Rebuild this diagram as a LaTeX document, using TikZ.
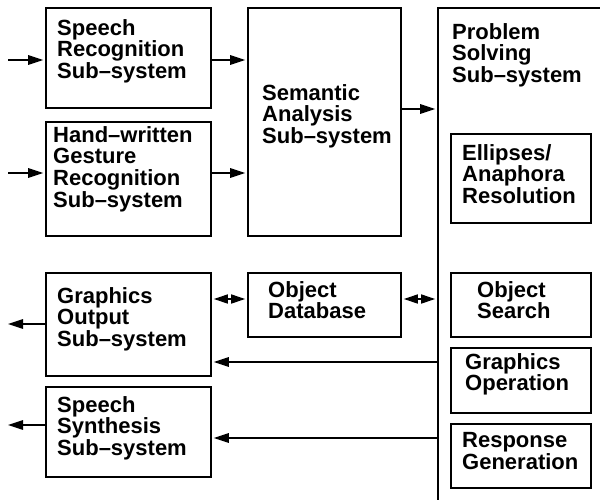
\documentclass[tikz,border=0pt]{standalone}
\usepackage{fontspec}
\setmainfont{Liberation Sans}
\usetikzlibrary{arrows.meta}
\begin{document}
\begin{tikzpicture}[x=1pt,y=-1pt,
  box/.style={draw, line width=2.8pt, inner sep=0pt},
  lbl/.style={anchor=north west, align=left, inner sep=0pt,
              font=\fontsize{22}{21.7}\selectfont\bfseries},
  conn/.style={line width=1.5pt, shorten >=1.4pt, -{Triangle[length=15pt,width=9.5pt]}},
  dconn/.style={line width=1.5pt, shorten >=1.4pt, shorten <=1.4pt,
                {Triangle[length=14pt,width=9pt]}-{Triangle[length=14pt,width=9pt]}}]
\useasboundingbox (0,0) rectangle (600,499);
% boxes
\node[box, minimum width=165, minimum height=100] (sr)  at (128.5,58) {};
\node[box, minimum width=165, minimum height=114] (hw)  at (128.5,179) {};
\node[box, minimum width=153, minimum height=228] (sem) at (324.5,122) {};
\node[box, minimum width=182, minimum height=512] (ps)  at (529,264) {};
\node[box, minimum width=140, minimum height=89]  (ell) at (521,178.5) {};
\node[box, minimum width=165, minimum height=103] (go)  at (128.5,324.5) {};
\node[box, minimum width=165, minimum height=90]  (ss)  at (128.5,432) {};
\node[box, minimum width=153, minimum height=64]  (db)  at (324.5,305) {};
\node[box, minimum width=140, minimum height=64]  (os)  at (521,305) {};
\node[box, minimum width=140, minimum height=65]  (gop) at (521,380.5) {};
\node[box, minimum width=140, minimum height=64]  (rg)  at (521,456) {};
% labels
\node[lbl] (tsr)  at (57,19)   {Speech\\Recognition\\Sub--system};
\node[lbl] (thw)  at (53,126)  {Hand--written\\Gesture\\Recognition\\Sub--system};
\node[lbl] (tsem) at (262,84)  {Semantic\\Analysis\\Sub--system};
\node[lbl] (tps)  at (452,23)  {Problem\\Solving\\Sub--system};
\node[lbl] (tell) at (462,144) {Ellipses/\\Anaphora\\Resolution};
\node[lbl] (tgo)  at (57,287)  {Graphics\\Output\\Sub--system};
\node[lbl] (tss)  at (57,396)  {Speech\\Synthesis\\Sub--system};
\node[lbl] (tdb)  at (268,281) {Object\\Database};
\node[lbl] (tos)  at (477,281) {Object\\Search};
\node[lbl] (tgop) at (465,353) {Graphics\\Operation};
\node[lbl] (trg)  at (462,432) {Response\\Generation};
% connector levels
\coordinate (in1) at (8,60);
\coordinate (in2) at (8,173);
\coordinate (l3) at (0,109);
\coordinate (l4) at (0,299);
\coordinate (o1) at (8,324);
\coordinate (o2) at (8,425);
\coordinate (l5) at (0,362);
\coordinate (l6) at (0,438);
% connectors
\draw[conn] (in1) -- (in1 -| sr.west);
\draw[conn] (in2) -- (in2 -| hw.west);
\draw[conn] (in1 -| sr.east) -- (in1 -| sem.west);
\draw[conn] (in2 -| hw.east) -- (in2 -| sem.west);
\draw[conn] (l3 -| sem.east) -- (l3 -| ps.west);
\draw[dconn] (l4 -| go.east) -- (l4 -| db.west);
\draw[dconn] (l4 -| db.east) -- (l4 -| ps.west);
\draw[conn, shorten >=0pt] (o1 -| go.west) -- (o1);
\draw[conn, shorten >=0pt] (o2 -| ss.west) -- (o2);
\draw[conn] (l5 -| ps.west) -- (l5 -| go.east);
\draw[conn] (l6 -| ps.west) -- (l6 -| ss.east);
\end{tikzpicture}
\end{document}
